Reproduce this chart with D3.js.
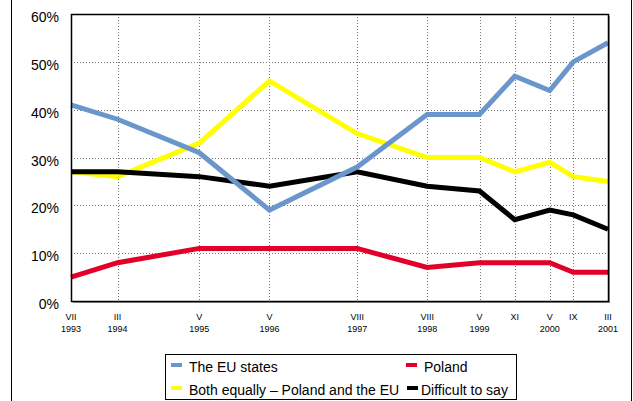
<!DOCTYPE html>
<html>
<head>
<meta charset="utf-8">
<script src="https://cdn.jsdelivr.net/npm/d3@7"></script>
<style>
  body { margin: 0; background: #fff; }
  svg { display: block; font-family: "Liberation Sans", Arial, sans-serif; }
</style>
</head>
<body>
<svg id="chart" width="633" height="401"></svg>
<script>
// survey dates: [year, month]
const dates = [[1993, 7], [1994, 3], [1995, 5], [1996, 5], [1997, 8], [1998, 8], [1999, 5], [1999, 11], [2000, 5], [2000, 9], [2001, 3]];
const monthLabels = ['VII', 'III', 'V', 'V', 'VIII', 'VIII', 'V', 'XI', 'V', 'IX', 'III'];
const yearLabels = ['1993', '1994', '1995', '1996', '1997', '1998', '1999', '', '2000', '', '2001'];

const euStates = [41, 38, 31, 19, 28, 39, 39, 47, 44, 50, 54];
const bothEqually = [27, 26, 33, 46, 35, 30, 30, 27, 29, 26, 25];
const poland = [5, 8, 11, 11, 11, 7, 8, 8, 8, 6, 6];
const difficult = [27, 27, 26, 24, 27, 24, 23, 17, 19, 18, 15];

const yTicks = [0, 10, 20, 30, 40, 50, 60];

const series = [
  { name: 'Both equally \u2013 Poland and the EU', values: bothEqually, color: '#ffff00' },
  { name: 'Difficult to say', values: difficult, color: '#000000' },
  { name: 'Poland', values: poland, color: '#e2002a' },
  { name: 'The EU states', values: euStates, color: '#6a96cc' }
];

const svg = d3.select('#chart');
const margin = { top: 14, right: 25, bottom: 100, left: 71 };
const width = 633, height = 401;

const toDate = (d) => new Date(d[0], d[1] - 1, 1);
const x = d3.scaleTime()
  .domain([toDate(dates[0]), toDate(dates[dates.length - 1])])
  .range([margin.left, width - margin.right]);
const y = d3.scaleLinear()
  .domain([0, 60])
  .range([height - margin.bottom, margin.top]);

// outer frame
svg.append('rect')
  .attr('x', 11.5).attr('y', -5)
  .attr('width', 620).attr('height', 420)
  .attr('fill', 'none').attr('stroke', '#000').attr('stroke-width', 1);

// plot shadow
svg.append('rect')
  .attr('x', margin.left + 2).attr('y', margin.top + 2)
  .attr('width', x.range()[1] - margin.left).attr('height', y(0) - margin.top)
  .attr('fill', '#999');
svg.append('rect')
  .attr('x', margin.left).attr('y', margin.top)
  .attr('width', x.range()[1] - margin.left).attr('height', y(0) - margin.top)
  .attr('fill', '#fff');

// grid
const grid = svg.append('g').attr('stroke', '#777').attr('stroke-dasharray', '1,2').attr('stroke-width', 1);
grid.selectAll('line.h')
  .data(yTicks.slice(1, -1))
  .join('line')
  .attr('x1', margin.left).attr('x2', x.range()[1])
  .attr('y1', (d) => Math.round(y(d)) + 0.5).attr('y2', (d) => Math.round(y(d)) + 0.5);
grid.selectAll('line.v')
  .data(dates.slice(1, -1))
  .join('line')
  .attr('x1', (d) => Math.round(x(toDate(d))) + 0.5).attr('x2', (d) => Math.round(x(toDate(d))) + 0.5)
  .attr('y1', margin.top).attr('y2', y(0));

// y axis labels
svg.append('g')
  .selectAll('text')
  .data(yTicks)
  .join('text')
  .attr('x', 59).attr('y', (d) => y(d) + 8)
  .attr('text-anchor', 'end')
  .attr('font-size', 14)
  .text((d) => d + '%');

// x axis labels
const xl = svg.append('g').attr('font-size', 9).attr('text-anchor', 'middle').attr('fill', '#000');
xl.selectAll('text.m')
  .data(dates)
  .join('text')
  .attr('class', 'm')
  .attr('x', (d) => x(toDate(d))).attr('y', 320)
  .text((d, i) => monthLabels[i]);
xl.selectAll('text.yr')
  .data(dates)
  .join('text')
  .attr('class', 'yr')
  .attr('x', (d) => x(toDate(d))).attr('y', 331.5)
  .text((d, i) => yearLabels[i]);

// lines
const line = d3.line()
  .x((d, i) => x(toDate(dates[i])))
  .y((d) => y(d));
svg.append('g')
  .selectAll('path')
  .data(series)
  .join('path')
  .attr('d', (s) => line(s.values))
  .attr('fill', 'none')
  .attr('stroke', (s) => s.color)
  .attr('stroke-width', 5)
  .attr('stroke-linejoin', 'miter');

// plot border
svg.append('rect')
  .attr('x', margin.left + 0.5).attr('y', margin.top + 0.5)
  .attr('width', x.range()[1] - margin.left).attr('height', y(0) - margin.top)
  .attr('fill', 'none').attr('stroke', '#000').attr('stroke-width', 1.5);

// legend
const legend = svg.append('g');
legend.append('rect')
  .attr('x', 165.5).attr('y', 354.5).attr('width', 351).attr('height', 45)
  .attr('fill', '#fff').attr('stroke', '#000');
const legendItems = [
  { s: series[3], sx: 171, tx: 189, cy: 367 },
  { s: series[2], sx: 406, tx: 424, cy: 367 },
  { s: series[0], sx: 171, tx: 189, cy: 390 },
  { s: series[1], sx: 407, tx: 421, cy: 390 }
];
legendItems.forEach((d) => {
  legend.append('rect')
    .attr('x', d.sx).attr('y', d.cy - 4).attr('width', 11).attr('height', 4)
    .attr('fill', d.s.color);
  legend.append('text')
    .attr('x', d.tx).attr('y', d.cy + 5)
    .attr('font-size', 14)
    .text(d.s.name);
});
</script>
</body>
</html>
